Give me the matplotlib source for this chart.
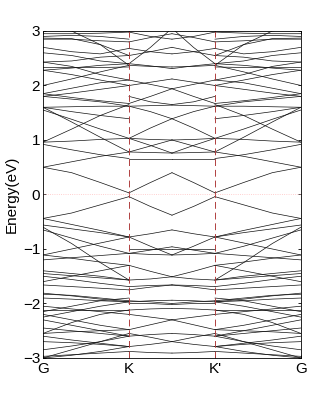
import numpy as np
import matplotlib
matplotlib.use('Agg')
import matplotlib.pyplot as plt

plt.rcParams['font.family'] = ['Liberation Sans', 'DejaVu Sans']

# high-symmetry labels and their positions along the path
k_labels = ['G', 'K', "K'", 'G']
k_ticks = [0, 1, 2, 3]

# k positions of the sampled energies (G->K and K->M halves, mirrored for the rest)
k_gk = [0, 1/3, 2/3, 1]
k_km = [1, 1.25, 1.5]

# energies (eV) read along G -> K, one row per line
gk_bands = [
    [0.50, 0.40, 0.22, 0.03],
    [0.50, 0.60, 0.70, 0.78],
    [0.92, 0.82, 0.73, 0.66],
    [0.96, 0.98, 1.01, 1.03],
    [0.96, 1.20, 1.45, 1.65],
    [1.55, 1.38, 1.20, 1.03],
    [1.60, 1.33, 1.05, 0.78],
    [1.60, 1.52, 1.45, 1.39],
    [1.60, 1.61, 1.62, 1.62],
    [1.80, 1.75, 1.70, 1.62],
    [1.80, 1.86, 1.93, 2.00],
    [1.85, 1.78, 1.72, 1.67],
    [1.85, 1.95, 2.05, 2.10],
    [2.00, 2.12, 2.25, 2.37],
    [2.28, 2.32, 2.37, 2.40],
    [2.28, 2.20, 2.10, 2.00],
    [2.33, 2.33, 2.33, 2.34],
    [2.43, 2.45, 2.52, 2.55],
    [2.43, 2.35, 2.20, 2.10],
    [2.60, 2.55, 2.45, 2.40],
    [2.70, 2.62, 2.58, 2.68],
    [2.85, 2.85, 2.82, 2.80],
    [2.87, 2.86, 2.75, 2.55],
    [2.90, 2.92, 2.90, 2.85],
    [2.95, 2.95, 2.96, 2.98],
    [3.05, 3.00, 2.75, 2.37],
    [-0.44, -0.34, -0.19, -0.04],
    [-0.44, -0.55, -0.66, -0.78],
    [-0.56, -0.63, -0.70, -0.78],
    [-0.65, -0.80, -0.95, -1.08],
    [-0.60, -0.90, -1.25, -1.57],
    [-1.11, -1.00, -0.89, -0.78],
    [-1.11, -1.17, -1.24, -1.30],
    [-1.20, -1.16, -1.12, -1.08],
    [-1.40, -1.45, -1.50, -1.57],
    [-1.45, -1.49, -1.53, -1.57],
    [-1.50, -1.56, -1.63, -1.69],
    [-1.60, -1.50, -1.40, -1.30],
    [-1.66, -1.69, -1.72, -1.75],
    [-1.81, -1.86, -1.92, -1.97],
    [-1.83, -1.85, -1.90, -1.95],
    [-1.90, -1.92, -1.95, -1.97],
    [-2.05, -2.10, -2.15, -2.20],
    [-2.12, -2.12, -2.12, -2.12],
    [-2.15, -2.05, -1.95, -1.90],
    [-2.20, -2.30, -2.40, -2.48],
    [-2.25, -2.15, -2.05, -1.97],
    [-2.30, -2.40, -2.50, -2.60],
    [-2.45, -2.50, -2.55, -2.60],
    [-2.55, -2.52, -2.50, -2.48],
    [-2.55, -2.35, -2.20, -2.12],
    [-2.60, -2.67, -2.73, -2.79],
    [-2.70, -2.72, -2.75, -2.79],
    [-2.85, -2.78, -2.70, -2.60],
    [-2.97, -2.94, -2.91, -2.88],
    [-3.00, -2.85, -2.70, -2.55],
    [-3.00, -2.95, -2.88, -2.79],
]

# energies (eV) read along K -> M (midpoint of K-K')
km_bands = [
    [0.03, 0.22, 0.40],
    [0.78, 0.77, 0.76],
    [0.66, 0.66, 0.66],
    [1.03, 0.90, 0.76],
    [1.03, 1.22, 1.39],
    [1.03, 1.01, 1.00],
    [0.78, 0.89, 1.00],
    [1.62, 1.52, 1.39],
    [1.62, 1.63, 1.64],
    [1.80, 1.70, 1.65],
    [1.67, 1.80, 1.94],
    [2.00, 2.06, 2.12],
    [2.10, 2.02, 1.94],
    [2.37, 2.35, 2.34],
    [2.40, 2.36, 2.31],
    [2.55, 2.62, 2.70],
    [2.68, 2.62, 2.58],
    [2.80, 2.88, 2.95],
    [2.40, 2.70, 3.05],
    [2.98, 2.90, 2.85],
    [-0.04, -0.22, -0.38],
    [-0.78, -0.72, -0.65],
    [-0.78, -0.95, -1.11],
    [-1.00, -1.00, -1.00],
    [-1.08, -1.02, -0.96],
    [-1.08, -1.10, -1.11],
    [-1.30, -1.41, -1.51],
    [-1.57, -1.55, -1.51],
    [-1.69, -1.67, -1.66],
    [-1.75, -1.70, -1.66],
    [-1.95, -1.97, -2.00],
    [-1.97, -1.95, -1.94],
    [-2.00, -2.00, -2.02],
    [-2.12, -2.10, -2.09],
    [-2.20, -2.25, -2.30],
    [-2.48, -2.39, -2.30],
    [-2.60, -2.57, -2.55],
    [-2.79, -2.75, -2.70],
    [-2.88, -2.90, -2.91],
    [-2.55, -2.62, -2.70],
]

fig = plt.figure(figsize=(3.32, 4.03), dpi=100)
ax = fig.add_axes([0.1295, 0.1117, 0.777, 0.8114])

# path is symmetric: K'-G mirrors G-K, M-K' mirrors K-M
kg = np.array(k_gk)
kk = np.array(k_km)
for e in gk_bands:
    ax.plot(kg, e, color='#111111', lw=0.5)
    ax.plot(3 - kg, e, color='#111111', lw=0.5)
for e in km_bands:
    ax.plot(kk, e, color='#111111', lw=0.5)
    ax.plot(3 - kk, e, color='#111111', lw=0.5)

# reference lines
for k in k_ticks[1:3]:
    ax.axvline(k, color='#b04040', lw=0.7, ls=(0, (7, 4)))
ax.axhline(0, color='#ffc0c0', lw=0.6, ls=':')

ax.set_xlim(0, 3)
ax.set_ylim(-3, 3)
ax.set_xticks(k_ticks)
ax.set_xticklabels(k_labels)
ax.set_yticks([-3, -2, -1, 0, 1, 2, 3])
ax.tick_params(direction='in', length=2, width=0.6, labelsize=11, pad=2,
               right=True, top=True)
ax.tick_params(axis='x', pad=3)
ax.set_ylabel('Energy(eV)', fontsize=11, labelpad=3)
for s in ax.spines.values():
    s.set_linewidth(0.6)

fig.savefig('out.png', dpi=100)
